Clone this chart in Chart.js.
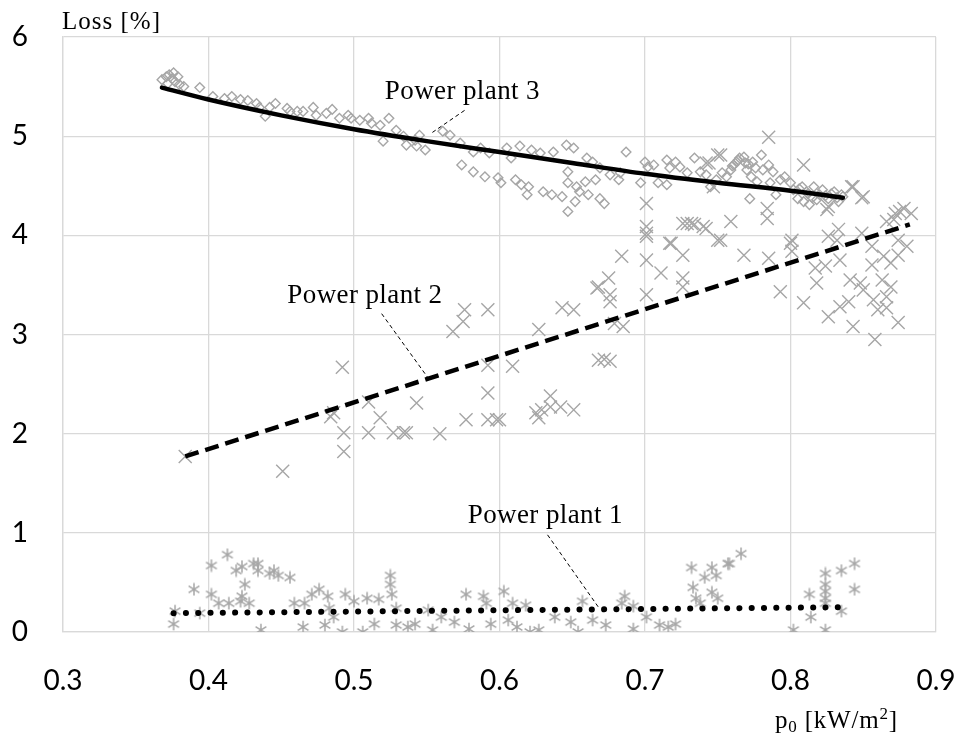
<!DOCTYPE html>
<html>
<head>
<meta charset="utf-8">
<script src="https://cdn.jsdelivr.net/npm/chart.js@4.4.1/dist/chart.umd.min.js"></script>
<style>
  html, body { margin: 0; padding: 0; background: #fff; }
  #wrap { width: 965px; height: 738px; }
</style>
</head>
<body>
<div id="wrap"><canvas id="c" width="965" height="738"></canvas></div>
<script>
// ---- Power plant 3 (open diamonds) ----
const plant3X = [0.368,0.371,0.373,0.375,0.377,0.379,0.372,0.376,0.380,0.383,0.394,
  0.403,0.411,0.416,0.422,0.427,0.433,0.439,0.435,0.446,0.442,0.454,0.456,0.461,0.465,0.472,0.474,0.481,0.485,0.490,0.496,0.498,0.504,0.510,0.512,0.518,0.524,0.520,0.529,0.534,0.536,0.543,0.545,0.549,0.542,
  0.561,0.566,0.574,0.573,0.582,0.582,0.587,0.590,0.593,0.599,0.601,0.605,0.608,0.611,0.614,0.615,0.620,0.622,0.628,0.619,0.630,0.637,0.636,0.643,0.646,0.651,0.647,0.647,0.647,0.653,0.652,0.655,0.659,0.660,0.661,0.664,0.666,0.669,0.669,0.672,0.676,0.682,0.683,0.687,
  0.697,0.700,0.702,0.706,0.709,0.715,0.715,0.717,0.721,0.724,0.729,0.734,0.738,0.742,0.745,0.749,0.753,0.756,0.759,0.761,0.763,0.765,0.768,0.769,0.770,0.772,0.773,0.774,0.777,0.780,0.781,0.785,0.786,0.788,0.790,0.793,0.796,0.800,0.802,0.805,0.808,0.811,0.813,0.816,0.820,0.822,0.826,0.830,0.833,0.836,0.809,0.818,
  0.760,0.764,0.771,0.776,0.812,0.824,0.828,0.832,0.835,0.815,0.806];
const plant3Y = [5.57,5.60,5.62,5.58,5.55,5.60,5.53,5.64,5.52,5.50,5.49,
  5.40,5.38,5.40,5.37,5.36,5.33,5.20,5.29,5.33,5.29,5.28,5.25,5.25,5.25,5.29,5.21,5.23,5.27,5.18,5.21,5.18,5.16,5.18,5.13,5.11,5.18,4.95,5.06,5.00,4.91,4.90,5.01,4.86,4.96,
  5.05,5.01,4.71,4.93,4.64,4.84,4.88,4.59,4.83,4.58,4.53,4.88,4.78,4.56,4.90,4.51,4.49,4.86,4.83,4.41,4.44,4.84,4.41,4.39,4.91,4.88,4.64,4.24,4.53,4.49,4.34,4.44,4.54,4.78,4.41,4.74,4.56,4.37,4.68,4.32,4.61,4.56,4.63,4.84,
  4.53,4.74,4.69,4.71,4.53,4.51,4.76,4.68,4.74,4.69,4.63,4.78,4.64,4.61,4.49,4.56,4.63,4.59,4.66,4.71,4.74,4.78,4.79,4.73,4.66,4.37,4.59,4.74,4.54,4.81,4.66,4.71,4.53,4.64,4.41,4.56,4.59,4.53,4.46,4.37,4.49,4.44,4.31,4.49,4.41,4.46,4.37,4.44,4.34,4.39,4.34,4.36,
  4.70,4.76,4.72,4.68,4.42,4.40,4.42,4.38,4.41,4.38,4.47];

// ---- Power plant 2 (crosses) ----
const plant2X = [0.384,0.451,0.492,0.484,0.493,0.493,0.510,0.518,0.510,0.527,0.534,0.536,0.543,0.559,0.568,0.575,0.576,0.592,0.577,0.592,0.592,0.592,0.600,0.609,0.627,0.627,0.629,0.635,0.635,0.642,0.643,0.651,0.651,0.667,
  0.668,0.675,0.676,0.676,0.684,0.668,0.676,0.679,0.685,0.701,0.701,0.701,0.701,0.701,0.711,0.718,0.726,0.726,0.726,0.726,0.732,0.598,0.625,0.486,0.740,
  0.752,0.744,0.785,0.809,0.843,0.849,0.747,0.784,0.784,0.825,0.734,0.742,0.759,0.752,0.768,0.785,0.793,0.801,0.801,0.809,0.817,0.818,0.824,0.826,0.826,0.832,0.833,0.834,0.834,0.841,0.840,0.843,0.848,0.849,0.850,0.856,0.856,0.857,0.858,0.860,0.863,0.864,0.866,0.866,0.866,0.869,0.869,0.872,0.874,0.874,0.874,0.878,0.880,
  0.883,0.875,0.871,0.742,0.750,0.842,0.850,0.826,0.701,0.729,0.717,0.750,0.800,0.672];
const plant2Y = [1.77,1.62,2.67,2.17,2.01,1.82,2.32,2.16,2.01,2.01,2.01,2.01,2.31,2.00,3.03,3.13,3.25,3.25,2.14,2.69,2.41,2.14,2.14,2.68,3.05,2.16,2.24,2.38,2.27,2.27,3.27,3.25,2.24,3.47,
  3.48,3.57,3.40,3.33,3.79,2.74,2.73,3.11,3.08,4.32,4.09,3.99,3.75,3.40,3.62,3.92,4.12,3.80,3.57,3.48,4.12,2.14,2.21,2.21,4.09,
  4.81,4.73,4.99,4.71,4.49,4.38,4.49,4.27,4.17,4.26,4.11,4.07,4.14,3.95,3.80,3.77,3.43,3.95,3.84,3.32,3.67,3.52,3.69,3.99,3.18,3.95,4.06,3.75,3.28,3.55,3.33,3.08,3.52,4.02,3.45,3.89,3.70,3.35,2.95,3.25,3.55,3.79,4.14,3.38,3.27,3.72,3.48,4.22,3.95,3.80,3.12,4.27,3.89,
  4.22,4.24,4.16,4.73,4.81,4.49,4.39,4.29,4.02,4.12,3.92,3.95,3.92,2.75];

// ---- Power plant 1 (asterisks) ----
const plant1X = [0.376,0.377,0.390,0.394,0.402,0.402,0.413,0.407,0.414,0.419,0.423,0.423,0.425,0.422,0.428,0.431,0.434,0.434,0.436,0.442,0.445,0.448,0.456,0.459,0.465,0.466,0.471,0.476,0.482,0.483,0.480,0.486,0.492,0.494,0.500,0.509,0.506,0.517,0.514,
  0.525,0.525,0.526,0.529,0.529,0.537,0.542,0.551,0.554,0.560,0.569,0.577,0.579,0.589,0.591,0.594,0.603,0.609,0.606,0.612,0.618,0.621,0.627,0.638,0.649,0.654,0.657,0.664,0.673,0.686,0.684,0.692,0.692,0.701,0.710,0.716,0.721,
  0.733,0.732,0.735,0.738,0.741,0.746,0.746,0.749,0.750,0.757,0.758,0.766,0.802,0.813,0.814,0.824,0.824,0.824,0.824,0.824,0.824,0.835,0.835,0.844,0.844];
const plant1Y = [0.08,0.21,0.43,0.19,0.67,0.38,0.78,0.29,0.29,0.62,0.66,0.36,0.48,0.31,0.29,0.69,0.69,0.62,0.02,0.59,0.62,0.57,0.55,0.29,0.05,0.29,0.38,0.43,0.36,0.24,0.07,0.15,0.00,0.38,0.31,0.34,0.00,0.33,0.08,
  0.57,0.48,0.38,0.24,0.07,0.05,0.08,0.22,0.02,0.15,0.10,0.38,0.03,0.36,0.29,0.08,0.41,0.29,0.12,0.05,0.27,0.00,0.02,0.15,0.10,0.00,0.31,0.12,0.07,0.36,0.29,0.26,0.03,0.15,0.07,0.05,0.08,
  0.45,0.65,0.34,0.29,0.55,0.65,0.40,0.57,0.34,0.69,0.69,0.79,0.02,0.38,0.15,0.59,0.48,0.41,0.34,0.29,0.02,0.62,0.21,0.69,0.43];

// ---- Trend lines ----
const trend3X = [0.368,0.40,0.45,0.50,0.55,0.60,0.65,0.70,0.75,0.80,0.836];
const trend3Y = [5.49,5.37,5.21,5.07,4.95,4.84,4.73,4.62,4.53,4.45,4.38];
const trend2X = [0.384,0.882];
const trend2Y = [1.77,4.11];
const trend1X = [0.376,0.838];
const trend1Y = [0.19,0.25];

// ---- Axis ticks ----
const xTicks = ['0.3','0.4','0.5','0.6','0.7','0.8','0.9'];
const yTicks = ['0','1','2','3','4','5','6'];

const pts = (xs, ys) => xs.map((x, i) => ({ x: x, y: ys[i] }));

const MARK = '#a6a6a6';

// asterisk marker (x with a vertical stroke)
function asterisk(size, color, lw) {
  const c = document.createElement('canvas');
  c.width = size; c.height = size;
  const g = c.getContext('2d');
  g.strokeStyle = color; g.lineWidth = lw;
  const m = size / 2, r = size / 2 - 0.8;
  g.beginPath();
  g.moveTo(m - r * 0.87, m - r * 0.55); g.lineTo(m + r * 0.87, m + r * 0.55);
  g.moveTo(m + r * 0.87, m - r * 0.55); g.lineTo(m - r * 0.87, m + r * 0.55);
  g.moveTo(m, m - r); g.lineTo(m, m + r);
  g.stroke();
  return c;
}
const starImg = asterisk(14, MARK, 1.5);

// callout labels: text anchor and leader line in data units
const callouts = [
  { text: 'Power plant 3', tx: 0.5745, ty: 5.37, from: [0.576, 5.26], to: [0.5536, 5.035] },
  { text: 'Power plant 2', tx: 0.5075, ty: 3.32, from: [0.519, 3.21], to: [0.552, 2.54] },
  { text: 'Power plant 1', tx: 0.6315, ty: 1.10, from: [0.633, 0.98], to: [0.668, 0.25] }
];

const SERIF = '"Liberation Serif", "Times New Roman", serif';

const annotate = {
  id: 'annotate',
  afterDraw(chart) {
    const ctx = chart.ctx, xs = chart.scales.x, ys = chart.scales.y;
    ctx.save();
    ctx.fillStyle = '#000';
    ctx.strokeStyle = '#000';
    // callouts
    ctx.font = '27px ' + SERIF;
    ctx.letterSpacing = '0.4px';
    ctx.textAlign = 'center';
    ctx.textBaseline = 'alphabetic';
    callouts.forEach(c => {
      ctx.fillText(c.text, xs.getPixelForValue(c.tx), ys.getPixelForValue(c.ty));
      ctx.beginPath();
      ctx.lineWidth = 1;
      ctx.setLineDash([4, 3]);
      ctx.moveTo(xs.getPixelForValue(c.from[0]), ys.getPixelForValue(c.from[1]));
      ctx.lineTo(xs.getPixelForValue(c.to[0]), ys.getPixelForValue(c.to[1]));
      ctx.stroke();
    });
    ctx.setLineDash([]);
    // y axis title
    ctx.textAlign = 'left';
    ctx.font = '25px ' + SERIF;
    ctx.letterSpacing = '1px';
    const area = chart.chartArea;
    ctx.fillText('Loss [%]', area.left - 1, area.top - 8);
    // x axis title with sub/superscript
    let x = area.right - 161;
    const base = area.bottom + 96;
    const big = '25px ' + SERIF;
    const small = '17px ' + SERIF;
    ctx.letterSpacing = '0.8px';
    const seg = (t, f, dy) => { ctx.font = f; ctx.fillText(t, x, base + dy); x += ctx.measureText(t).width; };
    seg('p', big, 0);
    seg('0', small, 4);
    seg(' [kW/m', big, 0);
    seg('2', small, -9);
    seg(']', big, 0);
    ctx.restore();
  }
};

// remove the automatic label overhang padding so the plot box sits where the layout puts it
function noOverhang(s) {
  s.paddingLeft = 0; s.paddingRight = 0; s.paddingTop = 0; s.paddingBottom = 0;
}

new Chart(document.getElementById('c'), {
  type: 'scatter',
  data: {
    datasets: [
      { type: 'line', data: pts(trend3X, trend3Y), borderColor: '#000', borderWidth: 4.5, pointRadius: 0, fill: false, cubicInterpolationMode: 'monotone', borderCapStyle: 'round' },
      { type: 'line', data: pts(trend2X, trend2Y), borderColor: '#000', borderWidth: 4.5, pointRadius: 0, fill: false, borderDash: [14, 7] },
      { type: 'line', data: pts(trend1X, trend1Y), borderColor: '#000', borderWidth: 6, pointRadius: 0, fill: false, borderDash: [0.1, 12.2], borderCapStyle: 'round' },
      { data: pts(plant3X, plant3Y), pointStyle: 'rectRot', pointRadius: 4.8, borderColor: MARK, backgroundColor: 'rgba(255,255,255,0)', borderWidth: 1.4 },
      { data: pts(plant2X, plant2Y), pointStyle: 'crossRot', pointRadius: 9.2, borderColor: MARK, backgroundColor: MARK, borderWidth: 1.4 },
      { data: pts(plant1X, plant1Y), pointStyle: starImg, pointRadius: 7, borderColor: MARK, backgroundColor: MARK }
    ]
  },
  options: {
    responsive: false,
    animation: false,
    events: [],
    layout: { padding: { top: 37, right: 29, left: 0, bottom: 0 } },
    plugins: { legend: { display: false }, tooltip: { enabled: false } },
    scales: {
      x: {
        type: 'linear', min: 0.3, max: 0.9,
        afterFit(s) { s.height = 106; noOverhang(s); },
        afterBuildTicks(s) { s.ticks = xTicks.map(v => ({ value: parseFloat(v) })); },
        grid: { color: '#d9d9d9', lineWidth: 1.3, drawTicks: false },
        border: { color: '#d9d9d9', width: 1.3 },
        ticks: { padding: 32, color: '#000', font: { family: 'Lato, "Open Sans", sans-serif', size: 28 },
          callback: (v, i) => xTicks[i] }
      },
      y: {
        type: 'linear', min: 0, max: 6,
        afterFit(s) { s.width = 63; noOverhang(s); },
        afterBuildTicks(s) { s.ticks = yTicks.map(v => ({ value: parseFloat(v) })); },
        grid: { color: '#d9d9d9', lineWidth: 1.3, drawTicks: false },
        border: { color: '#d9d9d9', width: 1.3 },
        ticks: { padding: 35, color: '#000', font: { family: 'Lato, "Open Sans", sans-serif', size: 28 },
          callback: (v, i) => yTicks[i] }
      }
    }
  },
  plugins: [annotate]
});
</script>
</body>
</html>
